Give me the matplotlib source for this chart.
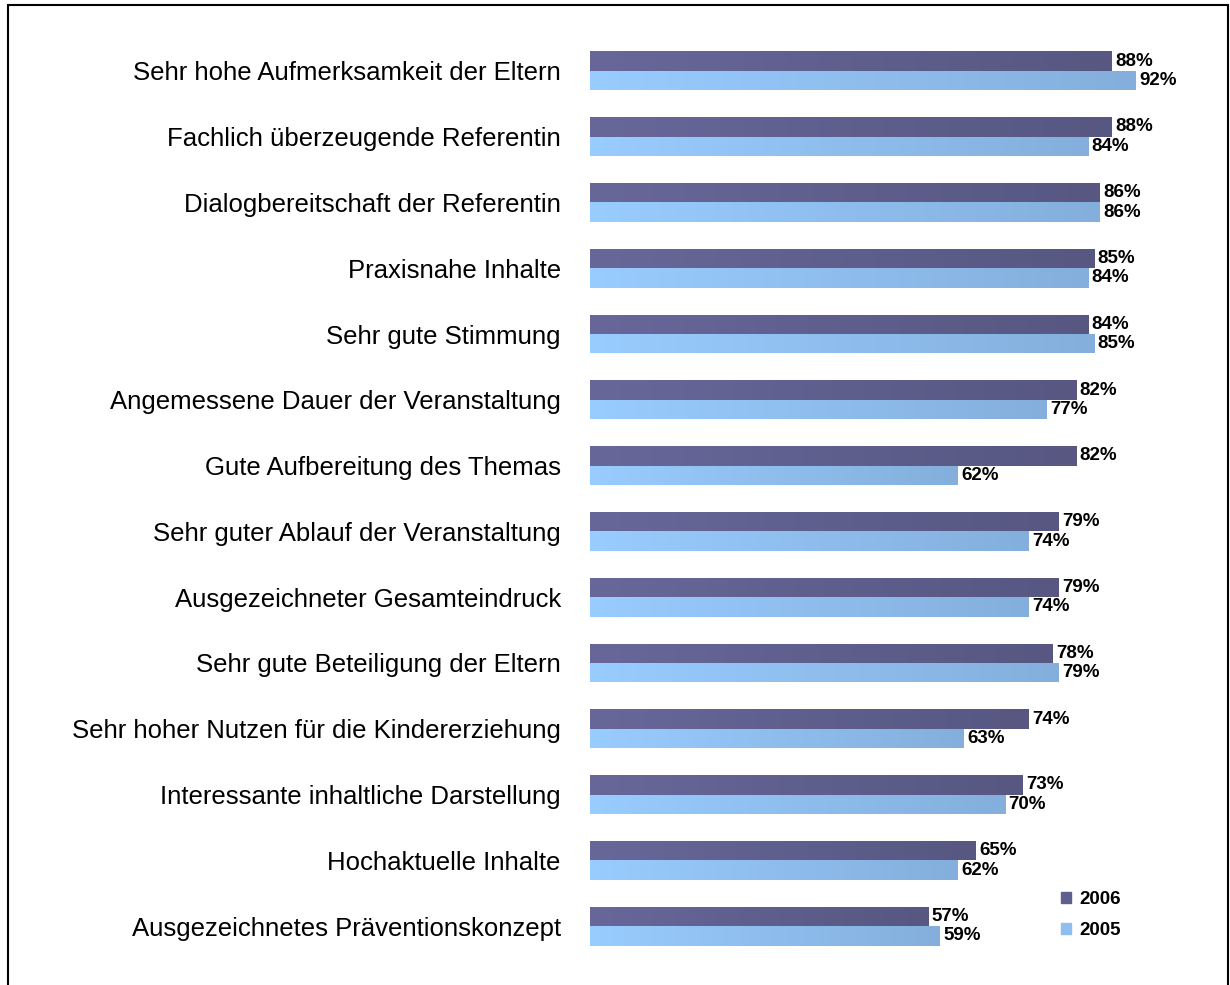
import numpy as np
import matplotlib.pyplot as plt
from matplotlib.colors import LinearSegmentedColormap
from matplotlib.patches import Rectangle, Patch

categories = ['Sehr hohe Aufmerksamkeit der Eltern', 'Fachlich überzeugende Referentin',
              'Dialogbereitschaft der Referentin', 'Praxisnahe Inhalte', 'Sehr gute Stimmung',
              'Angemessene Dauer der Veranstaltung', 'Gute Aufbereitung des Themas',
              'Sehr guter Ablauf der Veranstaltung', 'Ausgezeichneter Gesamteindruck',
              'Sehr gute Beteiligung der Eltern', 'Sehr hoher Nutzen für die Kindererziehung',
              'Interessante inhaltliche Darstellung', 'Hochaktuelle Inhalte',
              'Ausgezeichnetes Präventionskonzept']
v2006 = [88, 88, 86, 85, 84, 82, 82, 79, 79, 78, 74, 73, 65, 57]
v2005 = [92, 84, 86, 84, 85, 77, 62, 74, 74, 79, 63, 70, 62, 59]

plt.rcParams['font.family'] = ['Liberation Sans', 'DejaVu Sans']

fig = plt.figure(figsize=(12.3, 9.85), dpi=100)
ax = fig.add_axes([590 / 1230, 1 - 959 / 985, 593 / 1230, (959 - 38) / 985])

dark = LinearSegmentedColormap.from_list('d', ['#67679a', '#575782'])
light = LinearSegmentedColormap.from_list('l', ['#99ccff', '#84afdc'])
grad = np.linspace(0, 1, 256).reshape(1, -1)

y = np.arange(len(categories))
h = 0.295
b1 = ax.barh(y - h / 2, v2006, height=h, color='none')
b2 = ax.barh(y + h / 2, v2005, height=h, color='none')

for bars, cmap, vals in [(b1, dark, v2006), (b2, light, v2005)]:
    for p, v in zip(bars, vals):
        x0, y0 = p.get_x(), p.get_y()
        im = ax.imshow(grad, cmap=cmap, aspect='auto',
                       extent=[x0, x0 + p.get_width(), y0 + p.get_height(), y0])
        im.set_clip_path(p)
        ax.text(v + 0.6, y0 + p.get_height() / 2, f'{v}%', va='center', ha='left',
                fontsize=13.5, fontweight='bold')

ax.set_xlim(0, 100)
ax.set_ylim(len(categories) - 0.5, -0.5)
ax.set_yticks(y)
ax.set_yticklabels(categories, fontsize=18.5, va='center_baseline')
ax.tick_params(axis='y', length=0, pad=21)
ax.set_xticks([])
for s in ax.spines.values():
    s.set_visible(False)

handles = [Patch(color='#5f5f8e'), Patch(color='#8fbff0')]
fig.legend(handles, ['2006', '2005'], loc='center left', bbox_to_anchor=(1044 / 1230, 1 - 915 / 985),
           frameon=False, prop={'weight': 'bold', 'size': 13.5}, handlelength=0.55, handleheight=0.55,
           handletextpad=0.45, labelspacing=0.75)

fig.patches.append(Rectangle((8 / 1230, -0.05), 1220 / 1230, 1.05 - 5 / 985, transform=fig.transFigure,
                             fill=False, edgecolor='black', linewidth=1.5))

fig.savefig('out.png', dpi=100)
